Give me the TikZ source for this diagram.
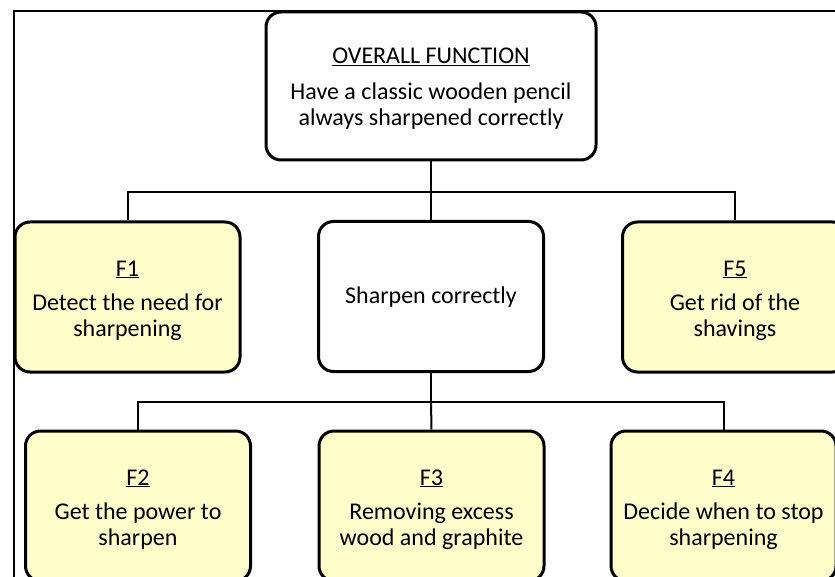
\documentclass[tikz,border=0pt]{standalone}
\usepackage{fontspec}
\setmainfont{Carlito}
\definecolor{boxyellow}{HTML}{FFFFCC}
\tikzset{
  fbox/.style={draw=black, line width=3pt, rounded corners=15pt, fill=boxyellow,
    minimum width=225pt, minimum height=150pt, align=center,
    inner sep=0pt, font=\fontsize{24}{26}\selectfont},
  wbox/.style={fbox, fill=white},
  conn/.style={draw=black, line width=2pt},
  frameline/.style={draw=black, line width=2pt}
}
\newcommand{\topstrut}{\rule{0pt}{24.5pt}}
\newcommand{\botstrut}{\rule[-6pt]{0pt}{6pt}}
\begin{document}
\begin{tikzpicture}[x=1pt,y=-1pt]
\useasboundingbox (0,0) rectangle (835,577);
\clip (0,0) rectangle (835,577);
\fill[white] (0,0) rectangle (835,577);
\draw[frameline] (14,600) -- (14,11) -- (860,11);
\node[wbox, minimum width=330pt, minimum height=148pt] (top) at (431,86)
  {\rule{0pt}{23.5pt}\underline{OVERALL FUNCTION}\\[9.5pt]Have a classic wooden pencil\\always sharpened correctly\botstrut};
\node[fbox] (f1) at (127.5,297) {\topstrut\underline{F1}\\[8.5pt]Detect the need for\\sharpening\botstrut};
\node[wbox] (mid) at (431,296.5) {\rule[-6pt]{0pt}{27pt}Sharpen correctly};
\node[fbox] (f5) at (735,297) {\topstrut\underline{F5}\\[8.5pt]Get rid of the\\shavings\botstrut};
\node[fbox] (f2) at (138,506) {\topstrut\underline{F2}\\[8.5pt]Get the power to\\sharpen\botstrut};
\node[fbox] (f3) at (431.5,506) {\topstrut\underline{F3}\\[8.5pt]Removing excess\\wood and graphite\botstrut};
\node[fbox] (f4) at (723.5,506) {\topstrut\underline{F4}\\[8.5pt]Decide when to stop\\sharpening\botstrut};
\coordinate (j1) at (431,192);
\coordinate (j2) at (431,402);
\draw[conn] (top.south) -- (j1);
\draw[conn] (j1) -| (f1.north);
\draw[conn] (j1) -| (f5.north);
\draw[conn] (j1) -- (mid.north);
\draw[conn] (mid.south) -- (j2);
\draw[conn] (j2) -| (f2.north);
\draw[conn] (j2) -| (f4.north);
\draw[conn] (j2) -- (f3.north);
\end{tikzpicture}
\end{document}
